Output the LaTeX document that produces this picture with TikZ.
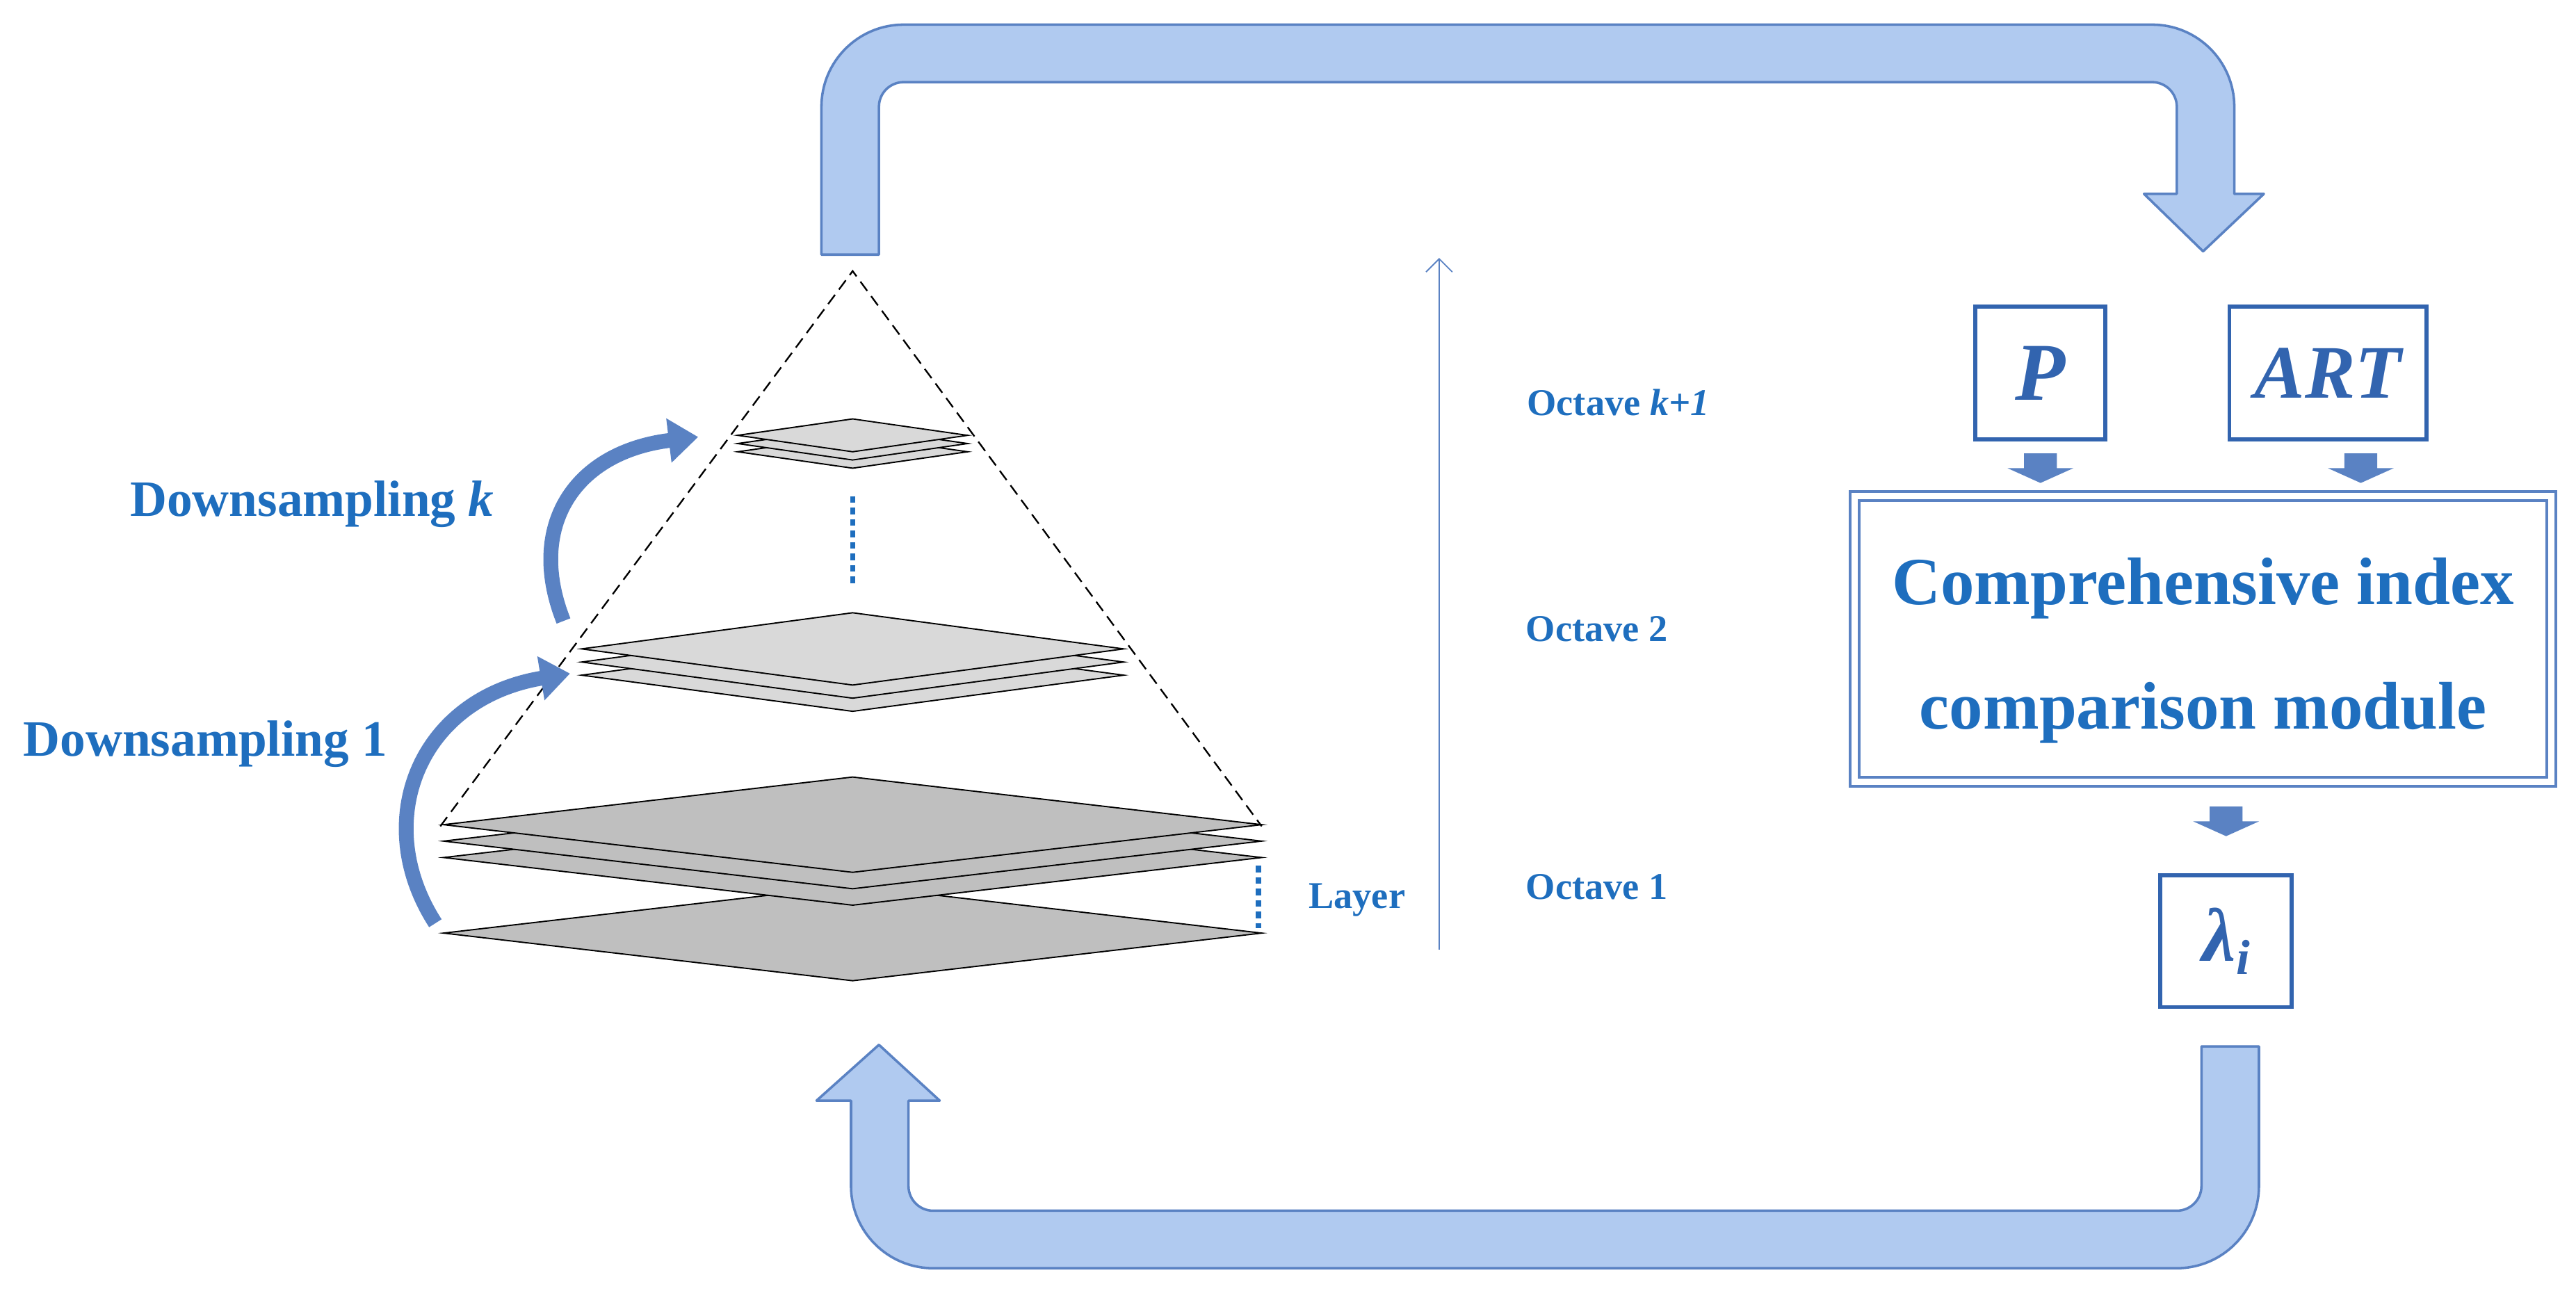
\documentclass[tikz,border=0pt]{standalone}
\usepackage{fontspec}
\setmainfont{Liberation Serif}
\usetikzlibrary{arrows.meta}
\definecolor{tb}{RGB}{30,110,190}
\definecolor{af}{RGB}{176,202,240}
\definecolor{ad}{RGB}{90,130,195}
\definecolor{bb}{RGB}{50,100,175}
\tikzset{
 band/.style={fill=af,draw=ad,line width=1.5pt,line join=round},
 lab/.style={text=tb,font=\bfseries},
 pl/.style={draw=black,line width=0.8pt},
 box/.style={draw=bb,line width=2.5pt,text=bb,font=\bfseries\itshape,inner sep=0pt},
 curv/.style={draw=ad,line width=9pt,-{Triangle[length=18pt,width=26pt]}}
}
\newcommand{\dia}[5]{\path[pl,fill=#5] (#1-#3,#2) -- (#1,#2-#4) -- (#1+#3,#2) -- (#1,#2+#4) -- cycle;}
\newcommand{\smarrow}[2]{\fill[ad] (#1-10,#2-9) -- (#1+10,#2-9) -- (#1+10,#2) -- (#1+20,#2) -- (#1,#2+9) -- (#1-20,#2) -- (#1-10,#2) -- cycle;}
\begin{document}
\begin{tikzpicture}[x=1pt,y=-1pt]
\useasboundingbox (0,0) rectangle (1568,790);
% top arrow
\path[band] (500,155) [rounded corners=50pt] -- (500,15) -- (1360,15) [sharp corners] -- (1360,118) -- (1378,118) -- (1341,153) -- (1305,118) -- (1325,118)
 [rounded corners=15pt] -- (1325,50) -- (535,50) [sharp corners] -- (535,155) -- cycle;
% bottom arrow
\path[band] (1375,637) [rounded corners=50pt] -- (1375,772) -- (518,772) [sharp corners] -- (518,670) -- (497,670) -- (535,636) -- (572,670) -- (553,670)
 [rounded corners=15pt] -- (553,737) -- (1340,737) [sharp corners] -- (1340,637) -- cycle;
% pyramid
\coordinate (ap) at (519,165); \coordinate (bl) at (268,503); \coordinate (br) at (768,503);
\draw[line width=1pt,dash pattern=on 7pt off 4pt] (bl) -- (ap) -- (br);
\dia{519}{568}{249}{29}{black!25}
\dia{519}{522}{249}{29}{black!25}
\dia{519}{512}{249}{29}{black!25}
\dia{519}{502}{249}{29}{black!25}
\dia{519}{411}{165}{22}{black!15}
\dia{519}{403}{165}{22}{black!15}
\dia{519}{395}{165}{22}{black!15}
\dia{519}{275}{70}{10}{black!15}
\dia{519}{270}{70}{10}{black!15}
\dia{519}{265}{70}{10}{black!15}
\draw[tb,line width=3pt,dash pattern=on 4pt off 3pt] (519,302) -- (519,355);
\draw[tb,line width=3pt,dash pattern=on 4pt off 3pt] (766,527) -- (766,565);
\tikzset{oct/.style={lab,font=\bfseries\fontsize{23}{26}\selectfont}}
\node[oct] (layer) at (826,548) {Layer};
\node[oct] (o3) at (985,245) {Octave \textit{k+1}};
\node[oct] (o2) at (972,383) {Octave 2};
\node[oct] (o1) at (972,540) {Octave 1};
\draw[ad,line width=0.8pt,-{Straight Barb[length=8pt]}] (876,578) -- (876,157);
% downsampling
\node[lab,font=\bfseries\fontsize{31}{34}\selectfont] (dk) at (190,307) {Downsampling \textit{k}};
\node[lab,font=\bfseries\fontsize{31}{34}\selectfont] (d1) at (125,453) {Downsampling 1};
\draw[curv] (343,378) .. controls (320,320) and (350,275) .. (425,266);
\draw[curv] (265,562) .. controls (225,500) and (255,425) .. (347,410);
% right boxes
\node[box,minimum width=79pt,minimum height=81pt,font=\bfseries\itshape\fontsize{50}{50}\selectfont] (P) at (1242,227) {P};
\node[box,minimum width=120pt,minimum height=81pt,font=\bfseries\itshape\fontsize{46}{46}\selectfont] (A) at (1417,227) {ART};
\smarrow{1242}{285}
\smarrow{1437}{285}
\node[draw=ad,double=white,double distance=4pt,line width=1.5pt,minimum width=424pt,minimum height=174pt,
 text=tb,font=\bfseries\fontsize{41}{76}\selectfont,align=center] (C) at (1341,389) {};
\node[text=tb,font=\bfseries\fontsize{41}{76}\selectfont,align=center] (Ct) at (1341,396) {Comprehensive index\\comparison module};
\smarrow{1355}{500}
\node[box,minimum width=80pt,minimum height=80pt,font=\bfseries\itshape\fontsize{46}{46}\selectfont] (L) at (1355,573) {λ\raisebox{-8pt}{\fontsize{30}{30}\selectfont i}};
\end{tikzpicture}
\end{document}
